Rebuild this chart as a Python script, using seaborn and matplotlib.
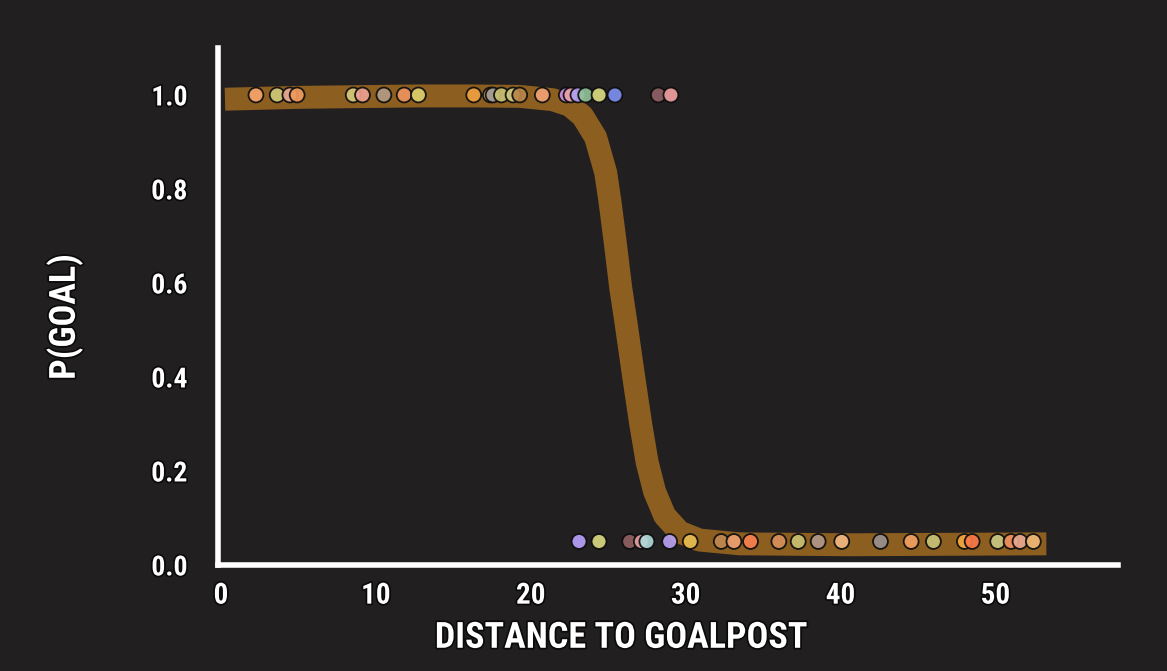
import matplotlib
matplotlib.use("Agg")
import matplotlib.pyplot as plt
import matplotlib.patheffects as pe
import seaborn as sns
import pandas as pd

# ---------------- data ----------------
top_x = [2.26, 3.63, 4.45, 4.92, 8.54, 9.14, 10.52, 11.83, 12.75, 16.32, 17.40, 17.57,
         18.11, 18.86, 19.29, 20.75, 22.30, 22.60, 23.05, 23.55, 24.41, 25.44, 28.24, 29.05]
top_colors = ['#F5A46A', '#CFC879', '#E8A894', '#EE9A5C', '#D4C97A', '#EBA090', '#B49A86',
              '#EC9460', '#DCCF6E', '#F0A040', '#D4A472', '#A09A94', '#C8C070', '#D2CC84',
              '#B8864A', '#F2A272', '#C890E8', '#E8A0A8', '#B0A0F0', '#90C098', '#DADA80',
              '#7C90F0', '#8E6064', '#F0A0A0']
top_y = [1.0] * len(top_x)

bottom_x = [23.12, 24.41, 26.39, 27.14, 27.50, 28.97, 30.30, 32.30, 33.12, 34.19, 36.02,
            37.27, 38.56, 40.08, 42.58, 44.56, 46.00, 48.00, 48.50, 50.15, 51.01, 51.59, 52.45]
bottom_colors = ['#B8A0F8', '#D8D880', '#906064', '#E8A0A0', '#B0D8D8', '#B8A0F0', '#E8BC50',
                 '#C08850', '#F0A070', '#F88050', '#D8905C', '#C8C070', '#B09888', '#F0B880',
                 '#989090', '#F0A060', '#C8C078', '#F0A840', '#F87848', '#C8C880', '#F09060',
                 '#E8A890', '#F0B878']
bottom_y = [0.05] * len(bottom_x)

# fitted probability curve
curve_x = [0.26, 5.10, 12.84, 16.06, 19.29, 21.42, 22.52, 23.35, 24.19, 24.84, 25.13,
           25.45, 25.81, 26.13, 26.65, 27.10, 27.52, 28.00, 28.65, 29.61, 30.90, 33.48,
           40.58, 53.29]
curve_y = [0.991, 0.995, 0.998, 0.998, 0.997, 0.990, 0.978, 0.955, 0.910, 0.835, 0.770,
           0.688, 0.590, 0.520, 0.400, 0.300, 0.218, 0.156, 0.105, 0.070, 0.053, 0.045,
           0.043, 0.045]

x_ticks = [0, 10, 20, 30, 40, 50]
y_ticks = [0.0, 0.2, 0.4, 0.6, 0.8, 1.0]
y_tick_labels = ["0.0", "0.2", "0.4", "0.6", "0.8", "1.0"]

# ---------------- style ----------------
BG = '#221F20'
sns.set_theme(style="dark")
FONTS = ['Roboto Condensed', 'Liberation Sans Narrow', 'Lato', 'DejaVu Sans']
plt.rcParams['font.family'] = FONTS
plt.rcParams['font.weight'] = 'bold'

fig = plt.figure(figsize=(11.67, 6.71), dpi=100, facecolor=BG)
ax = fig.add_axes([0.1868, 0.158, 0.771, 0.7705])
ax.set_facecolor(BG)
ax.grid(False)

curve_df = pd.DataFrame({'x': curve_x, 'y': curve_y})
sns.lineplot(data=curve_df, x='x', y='y', sort=False, estimator=None, ax=ax,
             color='#8C5F21', linewidth=16.5, solid_capstyle='butt',
             solid_joinstyle='round', zorder=2)

pts = pd.DataFrame({
    'x': top_x + bottom_x,
    'y': top_y + bottom_y,
    'id': [f't{i}' for i in range(len(top_x))] + [f'b{i}' for i in range(len(bottom_x))],
})
palette = dict(zip(pts['id'], top_colors + bottom_colors))
sns.scatterplot(data=pts, x='x', y='y', hue='id', palette=palette, legend=False, ax=ax,
                s=115, alpha=0.92, edgecolor='#0c0c0c', linewidth=1.3, zorder=3)

ax.set_xlim(-0.19, 57.9)
ax.set_ylim(0.0, 1.10)
ax.set_xticks(x_ticks)
ax.set_yticks(y_ticks)
ax.set_yticklabels(y_tick_labels)

outline = [pe.withStroke(linewidth=2.5, foreground='#0a0a0a')]
ax.tick_params(axis='both', length=0, colors='white')
ax.tick_params(axis='y', pad=22, labelsize=20)
ax.tick_params(axis='x', pad=12, labelsize=21)
for lab in ax.get_xticklabels() + ax.get_yticklabels():
    lab.set_fontweight('bold')
    lab.set_path_effects(outline)

ax.set_xlabel("DISTANCE TO GOALPOST", color='white', fontsize=26, fontweight='bold',
              path_effects=outline)
ax.set_ylabel("P(GOAL)", color='white', fontsize=26, fontweight='bold',
              path_effects=outline)
ax.xaxis.set_label_coords(0.448, -0.106)
ax.yaxis.set_label_coords(-0.150, 0.48)

for side in ['top', 'right']:
    ax.spines[side].set_visible(False)
for side in ['left', 'bottom']:
    ax.spines[side].set_visible(True)
    ax.spines[side].set_color('white')
    ax.spines[side].set_linewidth(4)
    ax.spines[side].set_capstyle('projecting')

fig.savefig('out.png', dpi=100, facecolor=BG)
